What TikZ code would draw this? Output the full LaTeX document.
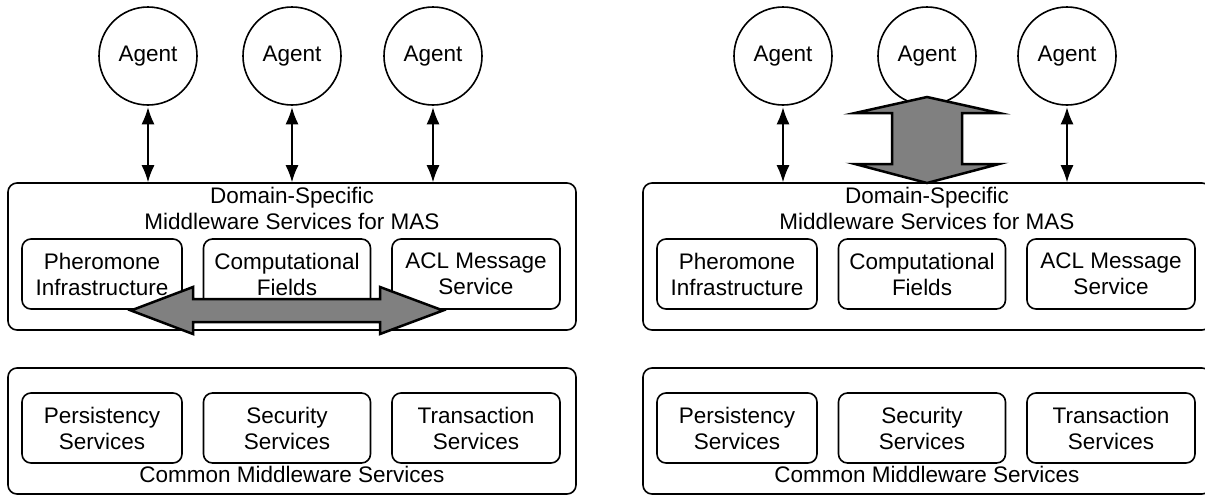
\documentclass[tikz,border=0pt]{standalone}
\usepackage{fontspec}
\setmainfont{Liberation Sans}
\usetikzlibrary{arrows.meta}
\definecolor{arrowgray}{RGB}{128,128,128}
\begin{document}
\begin{tikzpicture}[x=1pt,y=-1pt,
  every node/.style={font=\fontsize{22.5pt}{26pt}\selectfont},
  agent/.style={circle, draw, line width=1.6pt, minimum size=98pt, inner sep=0pt},
  outerbox/.style={draw, rounded corners=9pt, line width=1.6pt, inner sep=0pt},
  innerbox/.style={draw, rounded corners=9pt, line width=1.6pt, align=center, inner sep=0pt, minimum height=70pt},
  title/.style={align=center, inner sep=0pt},
  link/.style={line width=1.5pt, {Latex[length=17pt,width=13pt]}-{Latex[length=17pt,width=13pt]}, shorten <=1.5pt},
  bigarrow/.style={draw, fill=arrowgray, line width=2.5pt, line join=miter}]
\useasboundingbox (0,0) rectangle (1205,496);
\clip (0,0) rectangle (1205,496);

% ---------- left panel ----------
\node[outerbox, minimum width=568pt, minimum height=147pt] (domL) at (292,256.5) {};
\node[title] (domLt) at (292,208.5) {Domain-Specific\\Middleware Services for MAS};
\node[innerbox, minimum width=160pt] (pherL) at (102,274) {Pheromone\\Infrastructure};
\node[innerbox, minimum width=167pt] (compL) at (287,274) {Computational\\Fields};
\node[innerbox, minimum width=168pt] (aclL) at (476,274) {ACL Message\\Service};

\node[outerbox, minimum width=568pt, minimum height=126pt] (comL) at (292,431) {};
\node[innerbox, minimum width=160pt] (persL) at (102,428) {Persistency\\Services};
\node[innerbox, minimum width=167pt] (secL) at (287,428) {Security\\Services};
\node[innerbox, minimum width=168pt] (trL) at (476,428) {Transaction\\Services};
\node[title, anchor=base] (comLt) at (292,482) {Common Middleware Services};

\node[agent] (a1L) at (148,56) {Agent};
\node[agent] (a2L) at (292,56) {Agent};
\node[agent] (a3L) at (433,56) {Agent};
\draw[link] (a1L.south) -- (a1L.south |- domL.north);
\draw[link] (a2L.south) -- (a2L.south |- domL.north);
\draw[link] (a3L.south) -- (a3L.south |- domL.north);

\draw[bigarrow] (131,310.5) -- (193,287) -- (193,299) -- (380,299) -- (380,287)
  -- (443,310.5) -- (380,334) -- (380,322) -- (193,322) -- (193,334) -- cycle;

% ---------- right panel ----------
\node[outerbox, minimum width=568pt, minimum height=147pt] (domR) at (927,256.5) {};
\node[title] (domRt) at (927,208.5) {Domain-Specific\\Middleware Services for MAS};
\node[innerbox, minimum width=160pt] (pherR) at (737,274) {Pheromone\\Infrastructure};
\node[innerbox, minimum width=167pt] (compR) at (922,274) {Computational\\Fields};
\node[innerbox, minimum width=168pt] (aclR) at (1111,274) {ACL Message\\Service};

\node[outerbox, minimum width=568pt, minimum height=126pt] (comR) at (927,431) {};
\node[innerbox, minimum width=160pt] (persR) at (737,428) {Persistency\\Services};
\node[innerbox, minimum width=167pt] (secR) at (922,428) {Security\\Services};
\node[innerbox, minimum width=168pt] (trR) at (1111,428) {Transaction\\Services};
\node[title, anchor=base] (comRt) at (927,482) {Common Middleware Services};

\node[agent] (a1R) at (783,56) {Agent};
\node[agent] (a2R) at (927,56) {Agent};
\node[agent] (a3R) at (1067,56) {Agent};
\draw[link] (a1R.south) -- (a1R.south |- domR.north);
\draw[link] (a3R.south) -- (a3R.south |- domR.north);

\draw[bigarrow] (927,97) -- (999,113) -- (962,113) -- (962,164) -- (999,164)
  -- (927,183) -- (855,164) -- (892,164) -- (892,113) -- (855,113) -- cycle;
\end{tikzpicture}
\end{document}
